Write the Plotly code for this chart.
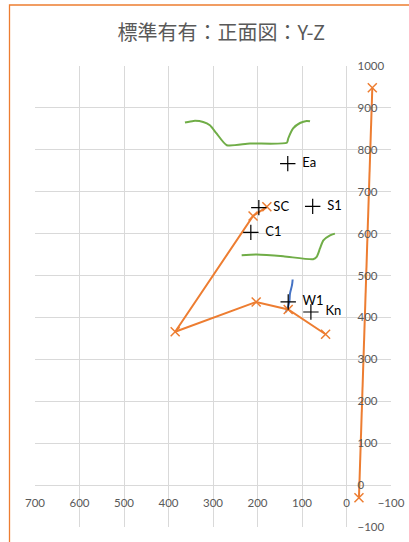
import plotly.graph_objects as go

# ---- data ----
orange_path_x = [47, 131, 203, 385, 210, 179]
orange_path_y = [360, 419, 437, 366, 642, 664]
orange_vert_x = [-58, -28]
orange_vert_y = [948, -30]

pt_names = ["Ea", "SC", "S1", "C1", "W1", "Kn"]
pt_x = [132, 197, 76, 215, 131, 80]
pt_y = [767, 662, 665, 603, 437, 413]

green_top_x = [363, 344, 322, 307, 292, 269, 217, 134, 131, 120, 104.5, 89.5, 82]
green_top_y = [865, 869, 866.5, 858.6, 839, 811, 815, 817, 827, 851, 864, 869, 868]
green_low_x = [235.6, 202, 142, 75, 67, 59.6, 52, 37, 26]
green_low_y = [548.6, 550, 546, 539, 544.5, 564.6, 584, 596, 600]
blue_x = [121, 122.5, 127, 128.6, 134.4, 137]
blue_y = [490.6, 477, 457, 437, 417, 413]

x_ticks = list(range(-100, 701, 100))
y_ticks = list(range(-100, 1001, 100))

ORANGE = "#ED7D31"
GREEN = "#70AD47"
BLUE = "#4472C4"
GRID = "#D9D9D9"
TXT = "#595959"

fig = go.Figure()
fig.add_trace(go.Scatter(x=green_top_x, y=green_top_y, mode="lines",
                         line=dict(color=GREEN, width=2, shape="spline", smoothing=0.6)))
fig.add_trace(go.Scatter(x=green_low_x, y=green_low_y, mode="lines",
                         line=dict(color=GREEN, width=2, shape="spline", smoothing=0.6)))
fig.add_trace(go.Scatter(x=blue_x, y=blue_y, mode="lines",
                         line=dict(color=BLUE, width=2, shape="spline")))
for xs, ys in [(orange_path_x, orange_path_y), (orange_vert_x, orange_vert_y)]:
    fig.add_trace(go.Scatter(x=xs, y=ys, mode="lines+markers",
                             line=dict(color=ORANGE, width=2),
                             marker=dict(symbol="x-thin", size=9,
                                         line=dict(color=ORANGE, width=1.5))))
fig.add_trace(go.Scatter(x=pt_x, y=pt_y, mode="markers+text",
                         text=["  " + n for n in pt_names],
                         textposition="middle right",
                         textfont=dict(family="Lato", size=13, color="#000000"),
                         marker=dict(symbol="cross-thin", size=11,
                                     line=dict(color="#000000", width=1.2))))

fig.update_layout(
    width=409, height=542,
    margin=dict(l=35, r=18, t=66, b=15, autoexpand=False),
    paper_bgcolor="white", plot_bgcolor="white",
    showlegend=False,
    title=dict(text="標準有有：正面図：Y-Z", x=214 / 409, xanchor="center", xref="paper",
               y=1 - 33 / 542, yanchor="middle",
               font=dict(family="Noto Sans CJK JP", size=20, color=TXT)),
    xaxis=dict(range=[700, -100], tickvals=x_ticks, showgrid=True,
               gridcolor=GRID, gridwidth=1, zeroline=False, showline=False,
               anchor="free", position=100 / 1100, side="bottom",
               ticks="", ticklabelstandoff=9, automargin=False,
               tickfont=dict(family="Lato", size=11.5, color=TXT)),
    yaxis=dict(range=[-100, 1000], tickvals=y_ticks, showgrid=True,
               gridcolor=GRID, gridwidth=1, zeroline=False, showline=False,
               anchor="free", position=700 / 800, side="right",
               ticks="", ticklabelstandoff=10, automargin=False,
               tickfont=dict(family="Lato", size=11.5, color=TXT)),
    shapes=[dict(type="rect", xref="paper", yref="paper",
                 x0=(9.5 - 35) / 356, x1=1.3, y0=-0.3, y1=(527 - 5) / 461,
                 line=dict(color=ORANGE, width=1.3), fillcolor="rgba(0,0,0,0)",
                 layer="above")],
)

fig.write_html("out.html", config={"displayModeBar": False},
               post_script="document.body.style.margin='0';document.body.style.overflow='hidden';")
